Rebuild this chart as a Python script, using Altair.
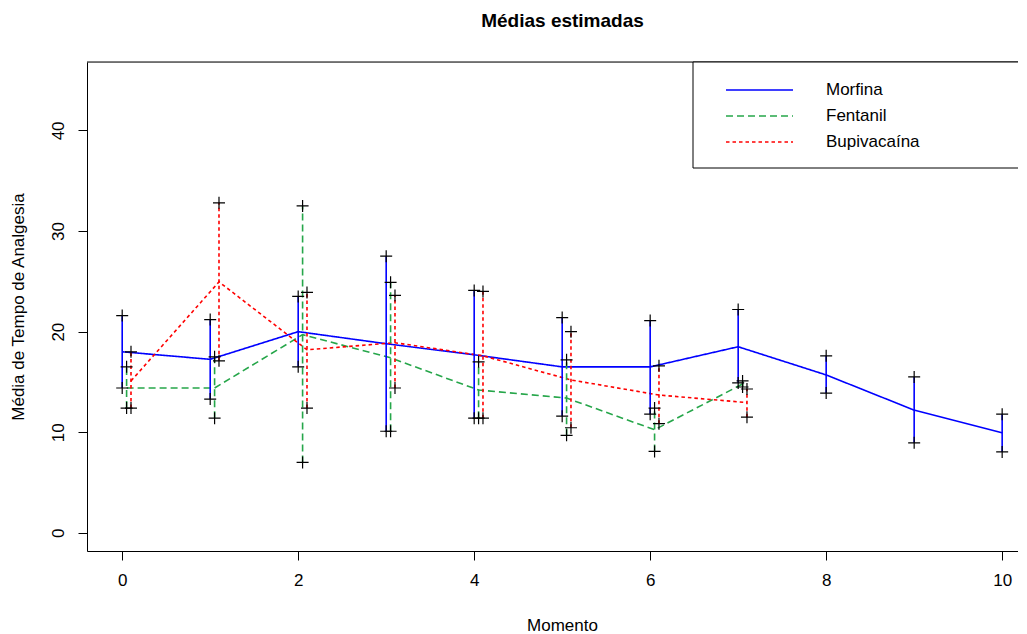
import altair as alt
import pandas as pd

# ---- data ----
series = ["Morfina", "Fentanil", "Bupivacaína"]

morfina_time = [0, 1, 2, 3, 4, 5, 6, 7, 8, 9, 10]
morfina_mean = [18.0, 17.25, 20.0, 18.8, 17.7, 16.5, 16.5, 18.5, 15.7, 12.2, 9.95]
morfina_lower = [14.4, 13.3, 16.5, 10.1, 11.4, 11.6, 11.8, 14.9, 13.9, 8.95, 8.05]
morfina_upper = [21.6, 21.2, 23.5, 27.5, 24.1, 21.4, 21.1, 22.2, 17.6, 15.5, 11.8]

fentanil_time = [0, 1, 2, 3, 4, 5, 6, 7]
fentanil_mean = [14.4, 14.4, 19.7, 17.4, 14.2, 13.4, 10.25, 14.8]
fentanil_lower = [12.4, 11.4, 7.0, 10.1, 11.4, 9.7, 8.1, 14.5]
fentanil_upper = [16.5, 17.5, 32.5, 24.9, 17.0, 17.2, 12.4, 15.1]

bupi_time = [0, 1, 2, 3, 4, 5, 6, 7]
bupi_mean = [15.1, 24.95, 18.2, 18.9, 17.6, 15.2, 13.7, 12.95]
bupi_lower = [12.4, 17.1, 12.4, 14.4, 11.4, 10.45, 10.85, 11.5]
bupi_upper = [18.0, 32.8, 23.9, 23.6, 24.0, 20.0, 16.6, 14.3]

x_ticks = [0, 2, 4, 6, 8, 10]
y_ticks = [0, 10, 20, 30, 40]

# ---- styles ----
colors = ["#0000FF", "#26A64A", "#FF0000"]
dashes = [[1, 0], [7, 4], [3.5, 3]]
dodge = {"Morfina": 0.0, "Fentanil": 0.05, "Bupivacaína": 0.10}
FONT = "Liberation Sans"

rows = []
for name, t, m, lo, up in [
    ("Morfina", morfina_time, morfina_mean, morfina_lower, morfina_upper),
    ("Fentanil", fentanil_time, fentanil_mean, fentanil_lower, fentanil_upper),
    ("Bupivacaína", bupi_time, bupi_mean, bupi_lower, bupi_upper),
]:
    for ti, mi, li, ui in zip(t, m, lo, up):
        rows.append({"serie": name, "momento": ti, "x": ti + dodge[name],
                     "media": mi, "lower": li, "upper": ui})
df = pd.DataFrame(rows)
leg_df = pd.DataFrame({"serie": series})
one = pd.DataFrame({"k": [0]})

W, H = 931, 489

color_scale = alt.Scale(domain=series, range=colors)
dash_scale = alt.Scale(domain=series, range=dashes)
x_scale = alt.Scale(domain=[-0.4, 10.18], nice=False, zero=False)
y_scale = alt.Scale(domain=[-1.8, 46.8], nice=False, zero=False)

x_axis = alt.Axis(values=x_ticks, format="d", title="Momento", grid=False,
                  domainColor="#000", domainWidth=1, tickColor="#000", tickSize=9,
                  labelFontSize=17, labelFont=FONT, labelColor="#000", labelPadding=12,
                  titleFont=FONT, titleFontSize=17, titleFontWeight="normal",
                  titleColor="#000", titleX=475, titleY=74, titleAlign="center",
                  titleBaseline="middle")
y_axis = alt.Axis(values=y_ticks, title="Média de Tempo de Analgesia", grid=False,
                  domainColor="#000", domainWidth=1, tickColor="#000", tickSize=9,
                  labelFontSize=17, labelFont=FONT, labelColor="#000", labelAngle=-90,
                  labelAlign="center", labelBaseline="bottom", labelPadding=11,
                  titleFont=FONT, titleFontSize=17, titleFontWeight="normal",
                  titleColor="#000", titleAngle=-90, titleX=-69, titleY=H / 2,
                  titleAlign="center", titleBaseline="middle")

color_enc = alt.Color("serie:N", scale=color_scale, legend=None)
dash_enc = alt.StrokeDash("serie:N", scale=dash_scale, legend=None)

lines = alt.Chart(df).mark_line(strokeWidth=1.6).encode(
    x=alt.X("x:Q", scale=x_scale, axis=x_axis),
    y=alt.Y("media:Q", scale=y_scale, axis=y_axis),
    color=color_enc, strokeDash=dash_enc, detail="serie:N",
)

bars = alt.Chart(df).mark_rule(strokeWidth=1.6).encode(
    x=alt.X("x:Q", scale=x_scale),
    y=alt.Y("lower:Q", scale=y_scale, axis=None),
    y2="upper:Q",
    color=color_enc, strokeDash=dash_enc,
)

caps = alt.Chart(df).transform_fold(["lower", "upper"], as_=["lim", "val"]).mark_point(
    shape="M-1,0L1,0M0,-1L0,1", size=144, filled=False, color="#000",
    strokeWidth=1.2, opacity=1,
).encode(
    x=alt.X("x:Q", scale=x_scale),
    y=alt.Y("val:Q", scale=y_scale, axis=None),
)

top_border = alt.Chart(one).mark_rule(color="#000", strokeWidth=1).encode(
    x=alt.value(0), x2=alt.value(W + 5), y=alt.value(0)
)

leg_box = alt.Chart(one).mark_rect(fill="white", stroke="#000", strokeWidth=1).encode(
    x=alt.value(606), x2=alt.value(W + 5), y=alt.value(0), y2=alt.value(106)
)

leg_y = alt.Y("serie:N",
              scale=alt.Scale(type="point", domain=series, range=[28, 80], padding=0),
              axis=None)
leg_lines = alt.Chart(leg_df).mark_rule(strokeWidth=1.6).encode(
    x=alt.value(639), x2=alt.value(706), y=leg_y,
    color=color_enc, strokeDash=dash_enc,
)
leg_text = alt.Chart(leg_df).mark_text(
    align="left", baseline="middle", fontSize=17, font=FONT, color="#000"
).encode(x=alt.value(739), y=leg_y, text="serie:N")

chart = alt.layer(
    top_border, lines, bars, caps, leg_box, leg_lines, leg_text
).resolve_scale(y="independent").properties(
    width=W, height=H,
    title=alt.TitleParams("Médias estimadas", font=FONT, fontSize=19,
                          fontWeight="bold", color="#000", anchor="middle",
                          frame="group", dx=10, offset=16, baseline="alphabetic"),
    autosize=alt.AutoSizeParams(type="none"),
    padding={"left": 79, "top": 54, "right": 0, "bottom": 84},
).configure_view(stroke=None).configure(background="white")

chart.save("out.html", embed_options={"renderer": "svg", "actions": False})
